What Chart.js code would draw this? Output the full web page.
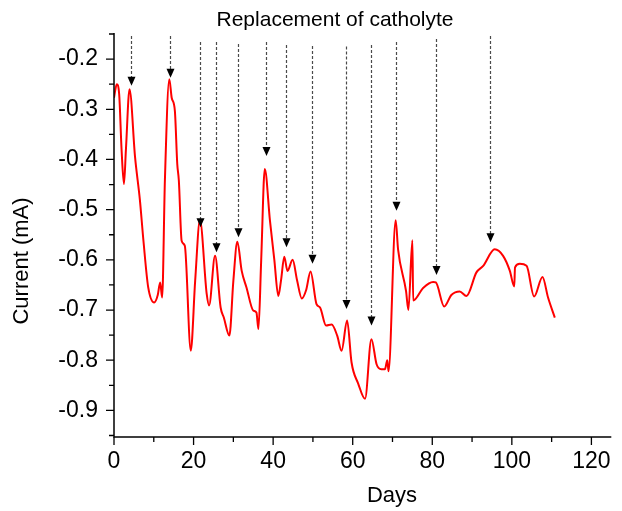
<!DOCTYPE html>
<html>
<head>
<meta charset="utf-8">
<title>Replacement of catholyte</title>
<script src="https://cdn.jsdelivr.net/npm/chart.js@4.4.0/dist/chart.umd.min.js"></script>
<style>
  html, body { margin: 0; padding: 0; background: #fff; }
  #wrap { width: 622px; height: 511px; position: relative; }
</style>
</head>
<body>
<div id="wrap"><canvas id="chart"></canvas></div>
<script>
// Current trace (days, mA)
const days = [
  0, 0.7, 1.3, 1.9, 2.5, 3.0, 3.9, 5.3, 6.5, 7.4, 8.6, 10.1, 11.0, 11.6, 12.1, 12.8,
  13.9, 14.5, 15.3, 15.9, 16.3, 17.0, 17.8, 19.3, 20.4, 21.6, 23.3, 23.9, 25.4, 26.8,
  27.6, 29.0, 30.0, 31.0, 32.1, 33.3, 35.0, 35.8, 36.3, 37.0, 37.9, 39.2, 40.3, 41.3,
  42.0, 42.8, 43.6, 44.9, 46.0, 47.2, 48.3, 49.4, 50.9, 51.8, 53.3, 54.7, 56.1, 57.2,
  58.6, 59.7, 61.4, 63.1, 64.7, 66.0, 67.2, 68.1, 68.7, 69.0, 70.8, 71.4, 73.4, 74.0,
  75.0, 75.2, 77.7, 80.2, 80.9, 83.0, 84.8, 86.9, 88.6, 91.1, 92.8, 95.7, 97.8, 99.5,
  100.6, 100.8, 102.0, 103.7, 105.6, 107.7, 109.1, 110.8
];
const current = [
  -0.277, -0.25, -0.27, -0.38, -0.449, -0.38, -0.26, -0.396, -0.48, -0.562, -0.655, -0.685, -0.67, -0.645, -0.675, -0.44,
  -0.24, -0.277, -0.303, -0.409, -0.442, -0.562, -0.572, -0.781, -0.642, -0.521, -0.668, -0.691, -0.592, -0.695,
  -0.715, -0.751, -0.642, -0.564, -0.622, -0.655, -0.701, -0.705, -0.738, -0.6, -0.419, -0.522, -0.6, -0.672,
  -0.64, -0.594, -0.622, -0.6, -0.64, -0.677, -0.66, -0.623, -0.688, -0.695, -0.731, -0.729, -0.751, -0.781,
  -0.721, -0.804, -0.847, -0.877, -0.758, -0.808, -0.818, -0.818, -0.8, -0.822, -0.521, -0.579, -0.662, -0.7,
  -0.561, -0.681, -0.656, -0.644, -0.645, -0.693, -0.67, -0.663, -0.672, -0.625, -0.612, -0.579, -0.592, -0.622,
  -0.653, -0.615, -0.608, -0.612, -0.673, -0.634, -0.675, -0.715
];

// Catholyte replacement markers: day, arrow tip and top of the dashed line (mA)
const arrowDays = [4.3, 14.1, 21.6, 25.6, 31.1, 38.1, 43.2, 49.7, 58.4, 64.6, 70.8, 80.9, 94.6];
const arrowTips = [-0.253, -0.237, -0.535, -0.585, -0.555, -0.393, -0.575, -0.608, -0.698, -0.731, -0.502, -0.63, -0.565];
const arrowTops = [-0.154, -0.154, -0.166, -0.166, -0.17, -0.166, -0.172, -0.174, -0.175, -0.172, -0.166, -0.16, -0.154];

// Axis ticks
const xTicks = [0, 20, 40, 60, 80, 100, 120];
const xMinorTicks = [10, 30, 50, 70, 90, 110];
const yTicks = [-0.2, -0.3, -0.4, -0.5, -0.6, -0.7, -0.8, -0.9];
const yMinorTicks = [-0.15, -0.25, -0.35, -0.45, -0.55, -0.65, -0.75, -0.85, -0.95];

const FONT = 'Liberation Sans, Arial, sans-serif';

// axis lines, outward tick marks, dashed arrows and the three titles
const decorations = {
  id: 'decorations',
  afterDatasetsDraw(chart) {
    const ctx = chart.ctx;
    const xs = chart.scales.x;
    const ys = chart.scales.y;
    const area = chart.chartArea;
    ctx.save();

    // dashed arrows
    ctx.strokeStyle = '#4a4a4a';
    ctx.lineWidth = 1.2;
    ctx.setLineDash([3, 2]);
    arrowDays.forEach(function (d, i) {
      const x = Math.round(xs.getPixelForValue(d)) + 0.5;
      const yTop = ys.getPixelForValue(arrowTops[i]);
      const yTip = ys.getPixelForValue(arrowTips[i]);
      ctx.beginPath();
      ctx.moveTo(x, yTop);
      ctx.lineTo(x, yTip - 8);
      ctx.stroke();
    });
    ctx.setLineDash([]);
    ctx.fillStyle = '#000';
    arrowDays.forEach(function (d, i) {
      const x = Math.round(xs.getPixelForValue(d)) + 0.5;
      const yTip = ys.getPixelForValue(arrowTips[i]);
      ctx.beginPath();
      ctx.moveTo(x - 4, yTip - 9);
      ctx.lineTo(x + 4, yTip - 9);
      ctx.lineTo(x, yTip);
      ctx.closePath();
      ctx.fill();
    });

    // axes
    ctx.strokeStyle = '#000';
    ctx.lineWidth = 1.5;
    ctx.beginPath();
    ctx.moveTo(area.left, area.top);
    ctx.lineTo(area.left, area.bottom);
    ctx.lineTo(area.right, area.bottom);
    ctx.stroke();

    ctx.lineWidth = 1.3;
    ctx.beginPath();
    xTicks.forEach(function (v) {
      const x = xs.getPixelForValue(v);
      ctx.moveTo(x, area.bottom); ctx.lineTo(x, area.bottom + 8);
    });
    xMinorTicks.forEach(function (v) {
      const x = xs.getPixelForValue(v);
      ctx.moveTo(x, area.bottom); ctx.lineTo(x, area.bottom + 5);
    });
    yTicks.forEach(function (v) {
      const y = ys.getPixelForValue(v);
      ctx.moveTo(area.left, y); ctx.lineTo(area.left - 8, y);
    });
    yMinorTicks.forEach(function (v) {
      const y = ys.getPixelForValue(v);
      ctx.moveTo(area.left, y); ctx.lineTo(area.left - 5, y);
    });
    ctx.stroke();

    // titles
    ctx.fillStyle = '#000';
    ctx.textAlign = 'center';
    ctx.textBaseline = 'middle';
    ctx.font = '21px ' + FONT;
    ctx.fillText('Replacement of catholyte', 335, 20);
    ctx.font = '22px ' + FONT;
    ctx.fillText('Days', 392, 496);
    ctx.translate(22, 261);
    ctx.rotate(-Math.PI / 2);
    ctx.fillText('Current (mA)', 0, 0);
    ctx.restore();
  }
};

const points = days.map(function (d, i) { return { x: d, y: current[i] }; });

new Chart(document.getElementById('chart'), {
  type: 'line',
  data: {
    datasets: [{
      label: 'Current',
      data: points,
      borderColor: '#ff0000',
      borderWidth: 2,
      pointRadius: 0,
      fill: false,
      cubicInterpolationMode: 'monotone'
    }]
  },
  options: {
    responsive: true,
    maintainAspectRatio: false,
    animation: false,
    layout: { padding: { left: 0, right: 10, top: 33, bottom: 0 } },
    plugins: {
      legend: { display: false },
      tooltip: { enabled: false },
      title: { display: false }
    },
    scales: {
      x: {
        type: 'linear',
        min: 0,
        max: 125,
        grid: { display: false, drawTicks: false },
        border: { display: false },
        afterBuildTicks: function (scale) {
          scale.ticks = xTicks.map(function (v) { return { value: v }; });
        },
        afterFit: function (scale) { scale.height = 74; },
        ticks: {
          color: '#000',
          padding: 11,
          maxRotation: 0,
          font: { family: FONT, size: 23 }
        },
        title: { display: false }
      },
      y: {
        min: -0.953,
        max: -0.148,
        grid: { display: false, drawTicks: false },
        border: { display: false },
        afterBuildTicks: function (scale) {
          scale.ticks = yTicks.map(function (v) { return { value: v }; });
        },
        afterFit: function (scale) { scale.width = 114; },
        ticks: {
          color: '#000',
          padding: 16,
          font: { family: FONT, size: 23 },
          callback: function (v) { return v.toFixed(1); }
        },
        title: { display: false }
      }
    }
  },
  plugins: [decorations]
});
</script>
</body>
</html>
